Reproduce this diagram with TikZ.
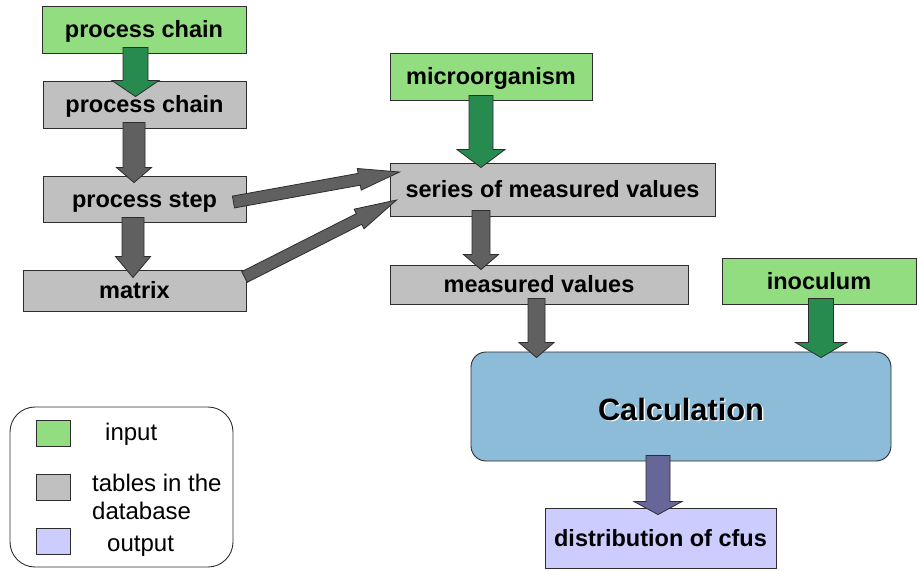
\documentclass[tikz,border=0pt]{standalone}
\usepackage{fontspec}
\setmainfont{Liberation Sans}
\usetikzlibrary{calc}

\definecolor{ingreen}{RGB}{146,221,127}
\definecolor{arrowgreen}{RGB}{39,139,80}
\definecolor{tablegray}{RGB}{192,192,192}
\definecolor{arrowgray}{RGB}{96,96,96}
\definecolor{calcblue}{RGB}{140,188,216}
\definecolor{outpurple}{RGB}{204,204,255}
\definecolor{arrowpurple}{RGB}{102,102,153}
\definecolor{edgecol}{RGB}{45,45,45}

% block arrow: #1 fill, #2 tail, #3 tip, #4 half shaft width, #5 half head width, #6 head length
\newcommand{\blockarrow}[6]{%
  \coordinate (ba-h) at ($(#3)!#6!(#2)$);
  \draw[arrowline, fill=#1]
    ($(#2)!#4!90:(#3)$) -- ($(ba-h)!#4!90:(#3)$) -- ($(ba-h)!#5!90:(#3)$)
    -- (#3) -- ($(ba-h)!#5!-90:(#3)$) -- ($(ba-h)!#4!-90:(#3)$)
    -- ($(#2)!#4!-90:(#3)$) -- cycle;
}

\tikzset{
  box/.style={draw=edgecol, line width=0.9pt, inner sep=0pt,
    text height=16pt, text depth=0pt,
    font=\fontsize{23.5}{28}\selectfont\bfseries},
  inbox/.style={box, fill=ingreen},
  tablebox/.style={box, fill=tablegray},
  outbox/.style={box, fill=outpurple},
  arrowline/.style={draw=edgecol, line width=0.8pt, line join=miter},
  legtext/.style={inner sep=0pt, font=\fontsize{24}{28}\selectfont},
  calcfont/.style={text height=27pt, text depth=0pt, inner sep=0pt,
    font=\fontsize{30.8}{36}\selectfont\bfseries},
  swatch/.style={draw=edgecol, line width=0.9pt, minimum width=34pt, minimum height=26pt, inner sep=0pt}
}

\begin{document}
\begin{tikzpicture}[x=1pt, y=-1pt]
\useasboundingbox (0,0) rectangle (917,570);

% tables and inputs
\node[inbox, minimum width=204pt, minimum height=47pt] (pc1) at (144,29.5) {process chain};
\node[tablebox, minimum width=203pt, minimum height=47pt] (pc2) at (144.5,104.5) {process chain};
\node[tablebox, minimum width=203pt, minimum height=46pt] (step) at (144.5,199) {process step};
\node[tablebox, minimum width=223pt, minimum height=41pt] (matrix) at (134.5,290.5) {matrix};
\node[inbox, minimum width=202pt, minimum height=47pt] (micro) at (491,76.5) {microorganism};
\node[tablebox, minimum width=325pt, minimum height=53pt] (series) at (552.5,189.5) {series of measured values};
\node[tablebox, minimum width=298pt, minimum height=39pt] (meas) at (539,284.5) {measured values};
\node[inbox, minimum width=194pt, minimum height=46pt] (inoc) at (819,281) {inoculum};

% calculation
\node[draw=edgecol, line width=0.9pt, fill=calcblue, rounded corners=15pt,
  minimum width=420pt, minimum height=109pt] (calc) at (681,406.5) {};
\node[calcfont, text=white] at ($(calc.center)+(1.4,1.4)$) {Calculation};
\node[calcfont] (calctext) at (calc.center) {Calculation};

% output
\node[outbox, minimum width=231pt, minimum height=60pt] (dist) at (660.5,538) {distribution of cfus};

% arrow end points
\coordinate (a1s) at ($(pc1.south)+(-8.5,-6)$);   \coordinate (a1e) at ($(pc2.north)+(-9,16)$);
\coordinate (a2s) at ($(pc2.south)+(-10.5,-6)$);  \coordinate (a2e) at ($(step.north)+(-10.5,7)$);
\coordinate (a3s) at ($(step.south)+(-11.5,-5)$); \coordinate (a3e) at ($(matrix.north)+(-1.5,8)$);
\coordinate (a4s) at ($(micro.south)+(-10,-5)$);  \coordinate (a4e) at ($(series.north)+(-71.5,5)$);
\coordinate (a5s) at ($(series.south)+(-71.5,-6)$); \coordinate (a5e) at ($(meas.north)+(-58,5)$);
\coordinate (a6s) at ($(meas.south)+(-2.5,-6)$);  \coordinate (a6e) at ($(calc.north)+(-144.5,6)$);
\coordinate (a7s) at ($(inoc.south)+(2,-6)$);     \coordinate (a7e) at ($(calc.north)+(140,6)$);
\coordinate (a8s) at ($(calc.south)+(-23,-6)$);   \coordinate (a8e) at ($(dist.north)+(-2.5,7)$);
\coordinate (a9s) at ($(step.east)+(-13,3)$);     \coordinate (a9e) at ($(series.west)+(10,-17.5)$);
\coordinate (a10s) at ($(matrix.east)+(-2,-13.5)$); \coordinate (a10e) at ($(series.west)+(7,10.5)$);

% connectors
\blockarrow{arrowgreen}{a1s}{a1e}{12.5pt}{23.5pt}{16pt}
\blockarrow{arrowgray}{a2s}{a2e}{11pt}{17.5pt}{15pt}
\blockarrow{arrowgray}{a3s}{a3e}{11pt}{17.5pt}{21pt}
\blockarrow{arrowgreen}{a4s}{a4e}{12pt}{24pt}{18pt}
\blockarrow{arrowgray}{a5s}{a5e}{9pt}{17.5pt}{15pt}
\blockarrow{arrowgray}{a6s}{a6e}{8.5pt}{17.5pt}{15pt}
\blockarrow{arrowgreen}{a7s}{a7e}{12.5pt}{25.5pt}{15pt}
\blockarrow{arrowpurple}{a8s}{a8e}{12pt}{24pt}{13pt}
\blockarrow{arrowgray}{a9s}{a9e}{6pt}{11pt}{41pt}
\blockarrow{arrowgray}{a10s}{a10e}{6pt}{11pt}{42pt}

% legend
\node[draw=edgecol, line width=0.9pt, rounded corners=25pt, minimum width=223pt,
  minimum height=160pt, inner sep=0pt] (legend) at (121.5,487) {};
\node[swatch, fill=ingreen] (sw1) at (53,433) {};
\node[swatch, fill=tablegray] (sw2) at (53,487.5) {};
\node[swatch, fill=outpurple] (sw3) at (53,541.5) {};
\node[legtext, anchor=west] (l1) at (105,434) {input};
\node[legtext, anchor=west, align=left] (l2) at (92,496.5) {tables in the\\database};
\node[legtext, anchor=west] (l3) at (107,546) {output};
\end{tikzpicture}
\end{document}
